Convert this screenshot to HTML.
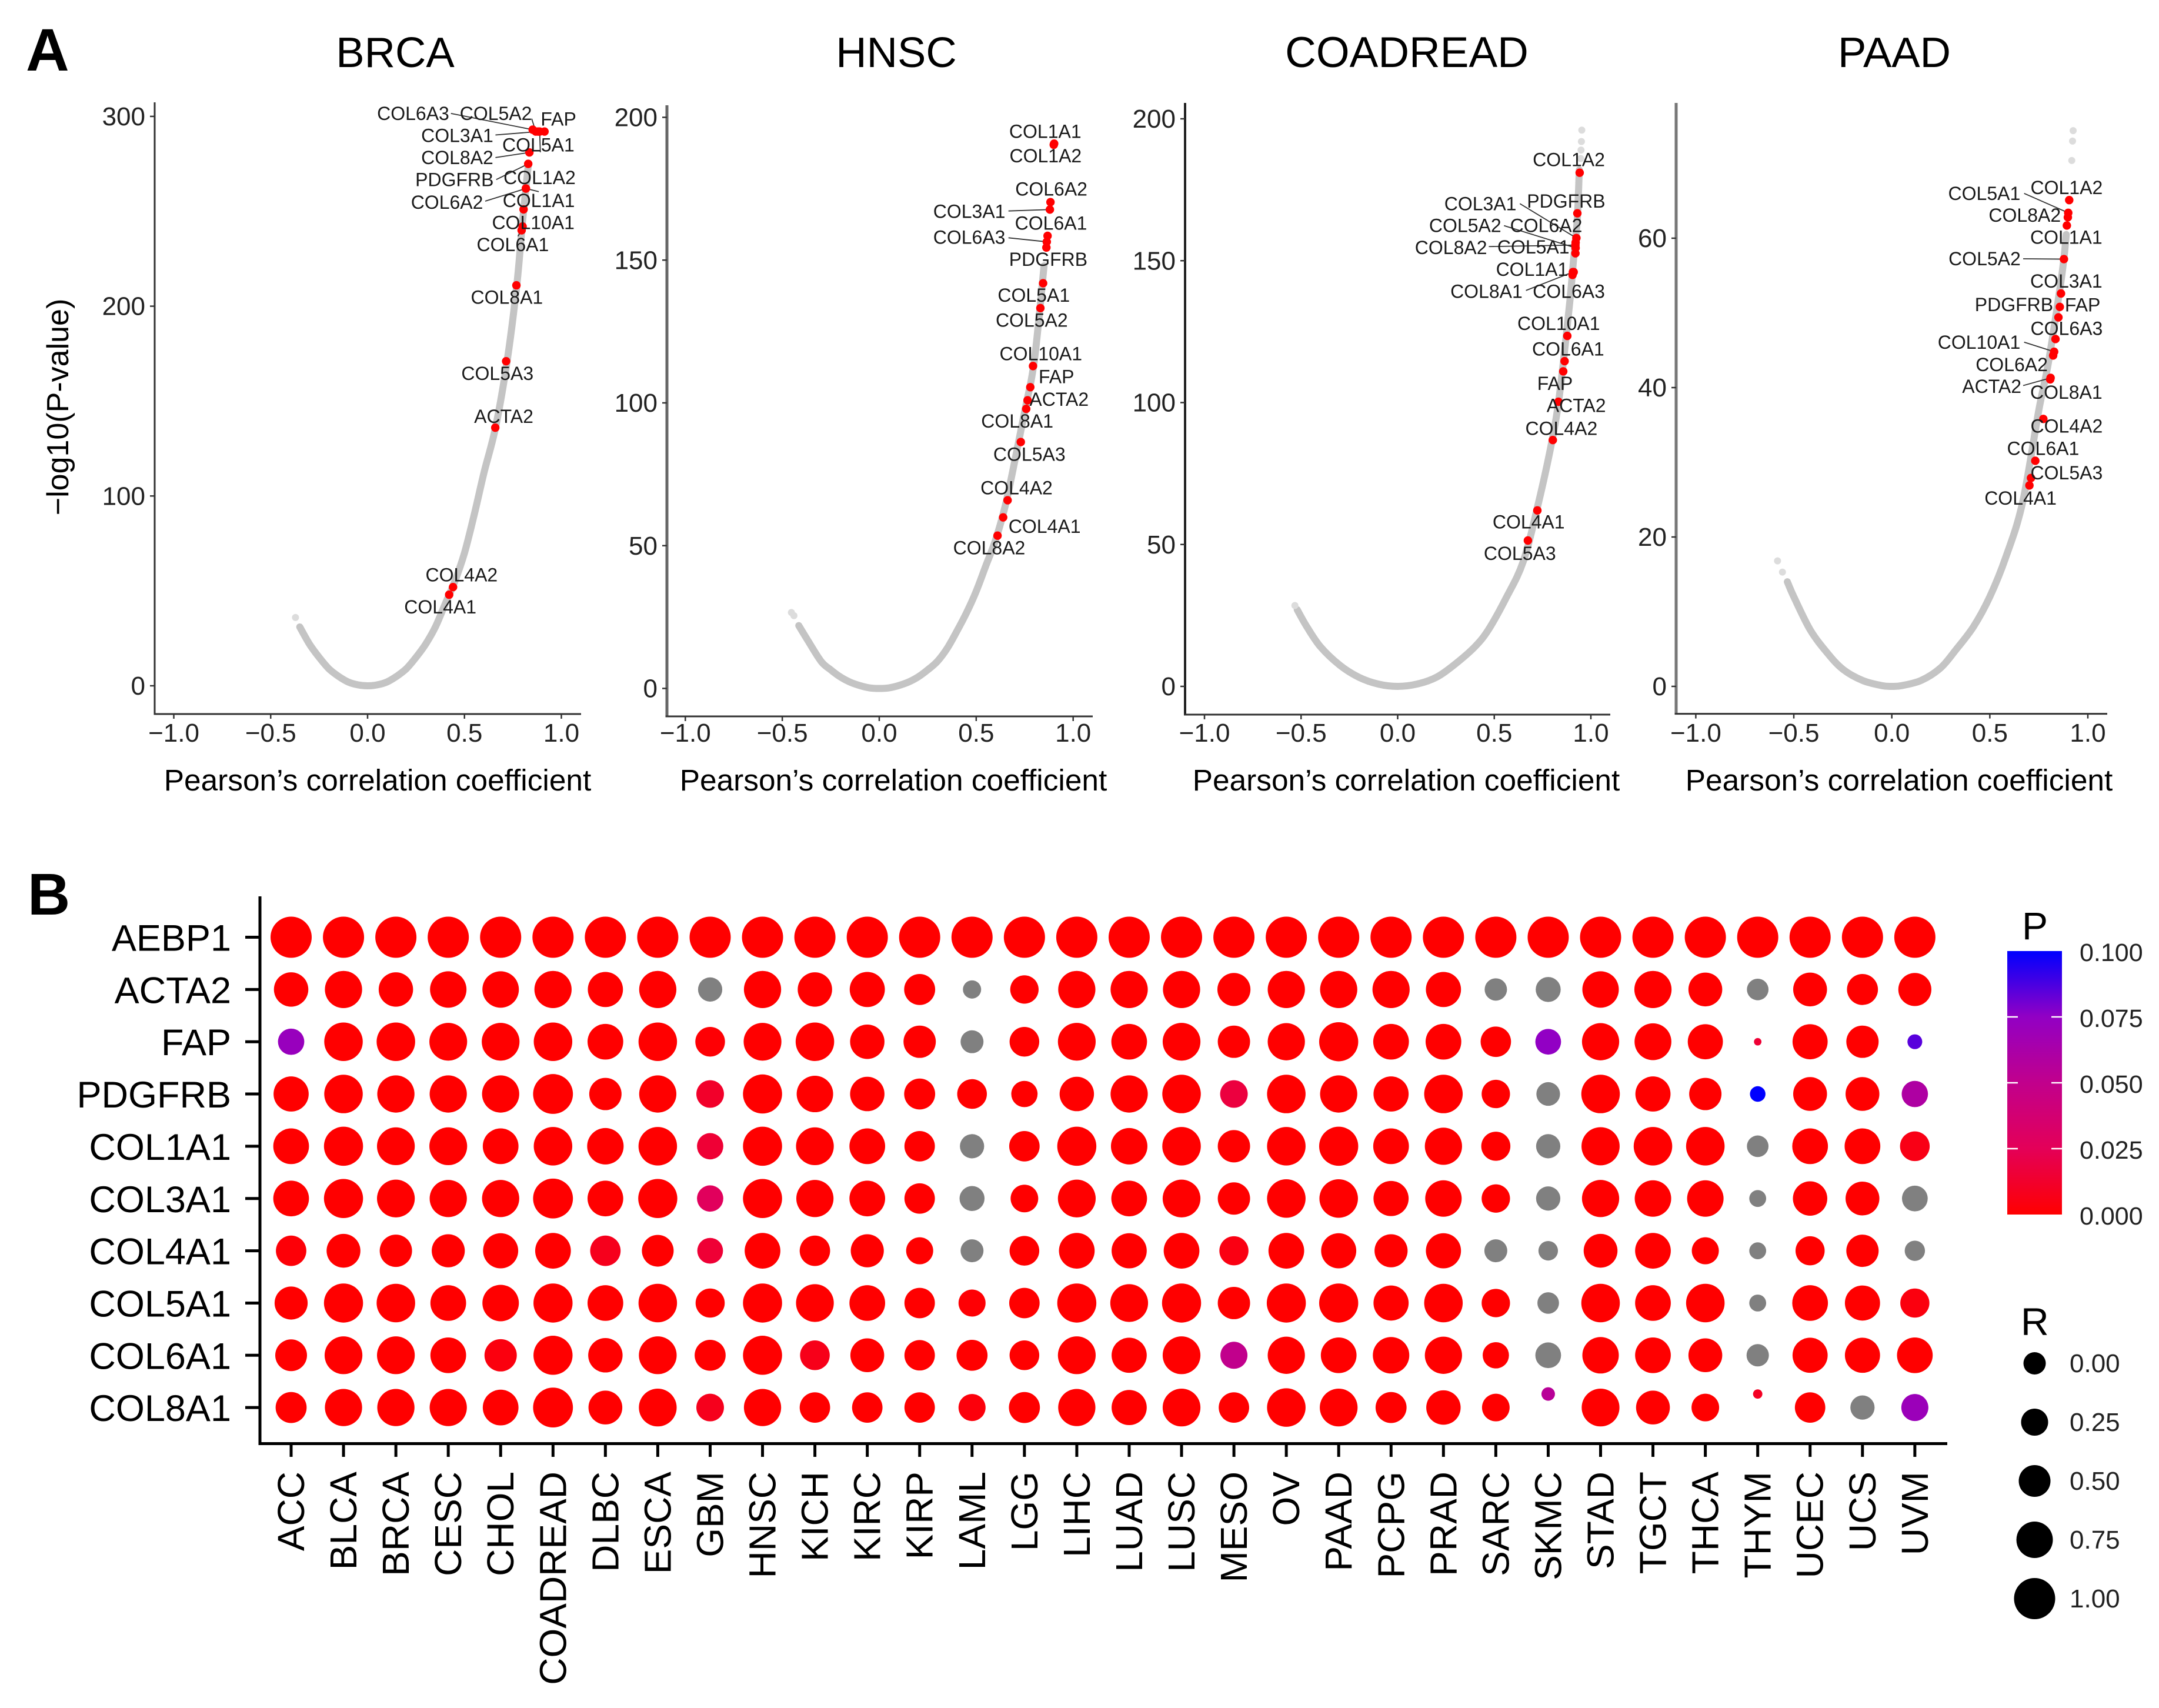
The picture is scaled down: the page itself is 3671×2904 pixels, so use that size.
<!DOCTYPE html>
<html lang="en">
<head>
<meta charset="utf-8">
<title>Panel A volcano plots and panel B dot matrix</title>
<style>
html,body{margin:0;padding:0;background:#fff;}
svg{display:block;font-family:"Liberation Sans",Arial,sans-serif;}
</style>
</head>
<body>
<svg id="figure" xmlns="http://www.w3.org/2000/svg" width="3671" height="2904" viewBox="0 0 3671 2904">
  <rect x="0" y="0" width="3671" height="2904" fill="#fff"/>
  <text x="44" y="120" font-size="102" font-weight="bold" fill="#000">A</text>
  <text x="47" y="1555" font-size="100" font-weight="bold" fill="#000">B</text>
  <text x="672" y="114" font-size="72.5" text-anchor="middle" fill="#000">BRCA</text>
  <text x="1524" y="114" font-size="72.5" text-anchor="middle" fill="#000">HNSC</text>
  <text x="2392" y="114" font-size="73" text-anchor="middle" fill="#000">COADREAD</text>
  <text x="3221" y="114" font-size="72.5" text-anchor="middle" fill="#000">PAAD</text>
  <text transform="translate(116,692) rotate(-90)" font-size="52" text-anchor="middle" fill="#000">−log10(P-value)</text>
  <text x="642" y="1344" font-size="51.4" text-anchor="middle" fill="#000">Pearson’s correlation coefficient</text>
  <text x="1519" y="1344" font-size="51.4" text-anchor="middle" fill="#000">Pearson’s correlation coefficient</text>
  <text x="2391" y="1344" font-size="51.4" text-anchor="middle" fill="#000">Pearson’s correlation coefficient</text>
  <text x="3229" y="1344" font-size="51.4" text-anchor="middle" fill="#000">Pearson’s correlation coefficient</text>
  <text x="3438" y="1597" font-size="66" fill="#000">P</text>
  <text x="3436" y="2270" font-size="66" fill="#000">R</text>
  <g id="volcano-layer"></g>
  <g id="dot-layer"></g>
  <g id="legend-layer"></g>
</svg>
<script>
/* ---------- Panel A data: values ---------- */
const xTickValues = [-1, -0.5, 0, 0.5, 1];
const brcaYTicks = [0, 100, 200, 300];
const hnscYTicks = [0, 50, 100, 150, 200];
const coadYTicks = [0, 50, 100, 150, 200];
const paadYTicks = [0, 20, 40, 60];

const brcaCurveR = [-.35,-.3,-.25,-.2,-.15,-.1,-.05,0,.05,.1,.15,.2,.25,.3,.35,.4,.45,.5,.55,.6,.66,.72,.77,.8,.83];
const brcaCurveP = [31,22,15,9,5,2,.5,0,.5,2,5,9,15,22,31,43,55,70,90,112,136,171,211,245,275];
const brcaFaintR = [-.372];
const brcaFaintP = [36];
const brcaGenes = ['COL6A3','COL5A2','FAP','COL3A1','COL5A1','COL8A2','COL1A2','PDGFRB','COL6A2','COL1A1','COL10A1','COL6A1','COL8A1','COL5A3','ACTA2','COL4A2','COL4A1'];
const brcaGeneR = [.852,.868,.913,.88,.888,.835,.817,.829,.817,.805,.80,.795,.768,.715,.659,.441,.421];
const brcaGeneP = [293,292,292,292,292,281,262,275,262,251,242,240,211,171,136,52,48];

const hnscCurveR = [-.415,-.37,-.3,-.25,-.2,-.15,-.1,-.05,0,.05,.1,.15,.2,.25,.3,.35,.4,.45,.5,.55,.6,.65,.7,.75,.8,.85];
const hnscCurveP = [22,17,9.5,6.5,4,2.2,1,.2,0,.2,1,2.2,4,6.5,9.5,14,20,26.5,34,43,52,64,80,97,115,148];
const hnscFaintR = [-.453,-.44];
const hnscFaintP = [26.6,25.5];
const hnscGenes = ['COL1A1','COL1A2','COL6A2','COL3A1','COL6A1','COL6A3','PDGFRB','COL5A1','COL5A2','COL10A1','FAP','ACTA2','COL8A1','COL5A3','COL4A2','COL4A1','COL8A2'];
const hnscGeneR = [.902,.90,.883,.880,.868,.864,.862,.845,.831,.793,.779,.765,.758,.730,.662,.639,.610];
const hnscGeneP = [190.8,190.4,170.3,167.7,158.5,156.4,154.4,141.9,133.2,112.9,105.5,100.9,97.9,86.3,65.9,59.9,53.5];

const coadCurveR = [-.52,-.47,-.4,-.3,-.2,-.1,0,.1,.2,.3,.4,.47,.56,.65,.73,.8,.84,.89,.91,.93,.94];
const coadCurveP = [27,21,14,7.5,3.2,.8,0,.8,3.2,8,14,20,31,44,65,87,104,135,150,165,182];
const coadFaintR = [-.532,.953,.951,.949,.947];
const coadFaintP = [28.5,196,192,189,186];
const coadGenes = ['COL1A2','COL3A1','PDGFRB','COL5A2','COL6A2','COL8A2','COL5A1','COL1A1','COL8A1','COL6A3','COL10A1','COL6A1','FAP','ACTA2','COL4A2','COL4A1','COL5A3'];
const coadGeneR = [.942,.925,.930,.921,.921,.920,.920,.911,.907,.905,.878,.864,.857,.832,.803,.723,.674];
const coadGeneP = [181,158,166.7,154.5,156.4,155.5,152.6,146,146,145,123.5,114.6,111,100.3,86.8,62,51.4];

const paadCurveR = [-.533,-.5,-.417,-.33,-.25,-.15,-.05,0,.05,.15,.25,.33,.417,.5,.583,.667,.75,.8,.867,.89];
const paadCurveP = [14,12,7.6,4.5,2.3,.8,.1,0,.1,.8,2.5,5,8,12,17.4,24.6,37,43.5,55,60.5];
const paadFaintR = [-.583,-.558,.925,.922,.918];
const paadFaintP = [16.8,15.3,74.4,73,70.4];
const paadGenes = ['COL5A1','COL1A2','COL8A2','COL1A1','COL5A2','COL3A1','PDGFRB','FAP','COL6A3','COL10A1','COL6A2','ACTA2','COL8A1','COL4A2','COL6A1','COL5A3','COL4A1'];
const paadGeneR = [.90,.905,.898,.893,.878,.863,.857,.85,.835,.828,.823,.81,.808,.773,.732,.71,.702];
const paadGeneP = [63.4,65.1,62.8,61.7,57.2,52.6,50.8,49.4,46.5,44.8,44.3,41.3,41.1,35.8,30.2,27.9,26.9];

/* ---------- Panel B data ---------- */
const cancerTypes = ['ACC','BLCA','BRCA','CESC','CHOL','COADREAD','DLBC','ESCA','GBM','HNSC','KICH','KIRC','KIRP','LAML','LGG','LIHC','LUAD','LUSC','MESO','OV','PAAD','PCPG','PRAD','SARC','SKMC','STAD','TGCT','THCA','THYM','UCEC','UCS','UVM'];
const matrixGenes = ['AEBP1','ACTA2','FAP','PDGFRB','COL1A1','COL3A1','COL4A1','COL5A1','COL6A1','COL8A1'];
const rAEBP1 = [1,1,1,1,1,1,1,1,1,1,1,1,1,1,1,1,1,1,1,1,1,1,1,1,1,1,1,1,1,1,1,1];
const rACTA2 = [.64,.79,.64,.75,.75,.79,.68,.79,.10,.79,.64,.68,.46,-.22,.32,.79,.79,.79,.57,.79,.79,.79,.68,0,.14,.75,.79,.61,-.04,.61,.46,.57];
const rFAP = [.21,.86,.86,.82,.82,.86,.71,.86,.39,.82,.86,.64,.53,.03,.39,.82,.71,.82,.53,.79,.89,.71,.71,.43,.18,.79,.77,.68,-.79,.68,.53,-.40];
const rPDGFRB = [.68,.86,.79,.79,.79,.93,.53,.79,.28,.89,.75,.64,.46,.39,.21,.64,.79,.86,.28,.86,.79,.68,.86,.32,.07,.86,.68,.53,-.36,.61,.61,.21];
const rCOL1A1 = [.71,.89,.82,.82,.71,.86,.75,.86,.21,.89,.82,.71,.43,.10,.43,.89,.75,.86,.53,.86,.89,.71,.79,.36,.10,.84,.86,.86,-.04,.71,.71,.39];
const rCOL3A1 = [.71,.89,.82,.79,.79,.93,.71,.89,.21,.89,.79,.71,.43,.14,.28,.82,.71,.82,.53,.86,.86,.68,.75,.32,.10,.79,.75,.75,-.29,.64,.61,.18];
const rCOL4A1 = [.43,.61,.53,.57,.68,.71,.43,.50,.18,.71,.43,.57,.25,.03,.39,.71,.68,.71,.36,.71,.68,.57,.68,.03,-.15,.61,.71,.25,-.29,.36,.53,-.11];
const rCOL5A1 = [.57,.89,.86,.71,.75,.89,.71,.86,.36,.89,.82,.71,.43,.25,.43,.89,.82,.89,.53,.89,.89,.68,.86,.32,-.04,.86,.71,.86,-.29,.71,.68,.36];
const rCOL6A1 = [.50,.82,.82,.71,.53,.89,.64,.82,.46,.89,.39,.61,.43,.46,.39,.82,.68,.82,.25,.79,.71,.75,.79,.21,.18,.75,.71,.61,0,.68,.68,.71];
const rCOL8A1 = [.46,.79,.79,.79,.71,.93,.61,.82,.28,.79,.43,.43,.43,.25,.46,.79,.68,.82,.43,.86,.82,.46,.64,.28,-.47,.82,.61,.28,-.69,.43,.10,.25];
/* null = not significant (drawn grey) */
const pAEBP1 = [0,0,0,0,0,0,0,0,0,0,0,0,0,0,0,0,0,0,0,0,0,0,0,0,0,0,0,0,0,0,0,0];
const pACTA2 = [0,0,0,0,0,0,0,0,null,0,0,0,0,null,0,0,0,0,0,0,0,0,0,null,null,0,0,0,null,0,0,0];
const pFAP = [.072,0,0,0,0,0,0,0,.001,0,0,0,0,null,0,0,0,0,0,0,0,0,0,0,.075,0,0,0,.015,0,0,.085];
const pPDGFRB = [0,0,0,0,0,0,0,0,.012,0,0,0,0,0,0,0,0,0,.018,0,0,0,0,0,null,0,0,0,.1,0,0,.06];
const pCOL1A1 = [0,0,0,0,0,0,0,0,.015,0,0,0,0,null,0,0,0,0,0,0,0,0,0,0,null,0,0,0,null,0,0,.006];
const pCOL3A1 = [0,0,0,0,0,0,0,0,.027,0,0,0,0,null,0,0,0,0,0,0,0,0,0,0,null,0,0,0,null,0,0,null];
const pCOL4A1 = [.002,0,0,0,0,0,.008,0,.015,0,0,0,0,null,0,0,0,0,.005,0,0,0,0,null,null,0,0,0,null,0,0,null];
const pCOL5A1 = [0,0,0,0,0,0,0,0,0,0,0,0,0,.001,0,0,0,0,0,0,0,0,0,0,null,0,0,0,null,0,0,.004];
const pCOL6A1 = [0,0,0,0,.004,0,0,0,0,0,.007,0,0,0,0,0,0,0,.05,0,0,0,0,0,null,0,0,0,null,0,0,0];
const pCOL8A1 = [0,0,0,0,0,0,0,0,.008,0,0,0,0,.003,0,0,0,0,0,0,0,0,0,0,.055,0,0,0,.01,0,null,.07];
const rRows = [rAEBP1,rACTA2,rFAP,rPDGFRB,rCOL1A1,rCOL3A1,rCOL4A1,rCOL5A1,rCOL6A1,rCOL8A1];
const pRows = [pAEBP1,pACTA2,pFAP,pPDGFRB,pCOL1A1,pCOL3A1,pCOL4A1,pCOL5A1,pCOL6A1,pCOL8A1];
const pLegendTicks = [0, 0.025, 0.05, 0.075, 0.1];
const rLegendTicks = [0, 0.25, 0.5, 0.75, 1];

/* ---------- Layout (pixels), kept apart from the data ---------- */
const SVGNS = 'http://www.w3.org/2000/svg';
const panels = [
  {curveR:brcaCurveR,curveP:brcaCurveP,faintR:brcaFaintR,faintP:brcaFaintP,genes:brcaGenes,geneR:brcaGeneR,geneP:brcaGeneP,yTicks:brcaYTicks,
   ax:263,top:174,bottom:1214,right:988,x0:625,xu:329.5,y0:1166,yu:3.227,axisW:3,axisC:'#333',
   grid:{ox:0,oy:0,sx:1.4933,sy:1.12},
   place:{COL6A3:[1049,216,1145,216],COL5A2:[1259,216,1350,226],FAP:[1418,227],COL3A1:[1161,258,1258,257],COL5A1:[1367,276,1372,290],COL8A2:[1161,300,1258,300],COL1A2:[1370,338,1368,365],PDGFRB:[1154,342,1260,342],COL6A2:[1135,385,1232,383],COL1A1:[1368,382,1327,400],COL10A1:[1354,424],COL6A1:[1302,466,1315,450],COL8A1:[1287,566],COL5A3:[1263,711],ACTA2:[1279,793],COL4A2:[1172,1095],COL4A1:[1118,1156]}},
  {curveR:hnscCurveR,curveP:hnscCurveP,faintR:hnscFaintR,faintP:hnscFaintP,genes:hnscGenes,geneR:hnscGeneR,geneP:hnscGeneP,yTicks:hnscYTicks,
   ax:1134,top:179,bottom:1218,right:1858,x0:1495,xu:329.7,y0:1170.5,yu:4.855,axisW:5,axisC:'#666',
   grid:{ox:1000,oy:100,sx:1.742,sy:1.206},
   place:{COL1A1:[1354,149],COL1A2:[1355,199],COL6A2:[1372,267],COL3A1:[1129,313,1245,312],COL6A1:[1371,337],COL6A3:[1129,366,1245,367],PDGFRB:[1363,411],COL5A1:[1320,485],COL5A2:[1314,536],COL10A1:[1341,605],FAP:[1387,652],ACTA2:[1395,698],COL8A1:[1271,743],COL5A3:[1307,811],COL4A2:[1269,880],COL4A1:[1352,959],COL8A2:[1188,1003]}},
  {curveR:coadCurveR,curveP:coadCurveP,faintR:coadFaintR,faintP:coadFaintP,genes:coadGenes,geneR:coadGeneR,geneP:coadGeneP,yTicks:coadYTicks,
   ax:2015,top:175,bottom:1215,right:2738,x0:2376.5,xu:328.5,y0:1167,yu:4.825,axisW:4,axisC:'#222',
   grid:{ox:1900,oy:100,sx:1.742,sy:1.206},
   place:{COL1A2:[1337,207],COL3A1:[1075,297,1192,297],PDGFRB:[1329,292],COL5A2:[1030,342,1145,342],COL6A2:[1270,342],COL8A2:[988,387,1100,385],COL5A1:[1232,386,1345,400],COL1A1:[1228,432],COL8A1:[1093,477,1210,475],COL6A3:[1337,477],COL10A1:[1307,543],COL6A1:[1335,595],FAP:[1296,666],ACTA2:[1359,711],COL4A2:[1315,758],COL4A1:[1218,950],COL5A3:[1192,1014]}},
  {curveR:paadCurveR,curveP:paadCurveP,faintR:paadFaintR,faintP:paadFaintP,genes:paadGenes,geneR:paadGeneR,geneP:paadGeneP,yTicks:paadYTicks,
   ax:2850,top:175,bottom:1213.6,right:3583,x0:3216.7,xu:333.3,y0:1167,yu:12.70,axisW:5,axisC:'#777',
   grid:{ox:2800,oy:100,sx:1.80,sy:1.206},
   place:{COL5A1:[1033,276,1155,276],COL1A2:[1285,264],COL8A2:[1157,321],COL1A1:[1284,366],COL5A2:[1034,410,1152,410],COL3A1:[1284,456],PDGFRB:[1124,504],FAP:[1334,505],COL6A3:[1285,553],COL10A1:[1017,581,1155,581],COL6A2:[1117,627],ACTA2:[1056,672,1152,670],COL8A1:[1284,684],COL4A2:[1285,753],COL6A1:[1213,799],COL5A3:[1285,849],COL4A1:[1144,901]}}
];
const matrix = {axisX:442,axisTop:1524,axisBottom:2454.5,axisRight:3311,col0:495,colStep:89.06,row0:1593.5,rowStep:88.85};
const shiftedUp = {'COL8A1|SKMC':23,'COL8A1|THYM':23};

function mk(tag, attrs, parent, txt){
  const n = document.createElementNS(SVGNS, tag);
  for (const k in attrs) n.setAttribute(k, attrs[k]);
  if (txt !== undefined) n.textContent = txt;
  parent.appendChild(n);
  return n;
}
function fmtTick(v){
  const s = Math.abs(v).toFixed(1);
  return (v < 0 ? '\u2212' : '') + s;
}
function pColor(p){
  if (p === null) return '#808080';
  const stops = [[255,0,0],[228,0,88],[193,0,140],[146,0,196],[0,0,255]];
  const t = Math.max(0, Math.min(1, p / 0.1)) * 4;
  const i = Math.min(3, Math.floor(t));
  const f = t - i;
  const c = [0,1,2].map(function(k){ return Math.round(stops[i][k] + (stops[i+1][k] - stops[i][k]) * f); });
  return 'rgb(' + c.join(',') + ')';
}
function dotDiameter(r){ return 38 + 32 * r; }
/* Smooth path through the read points (Catmull-Rom) */
function smoothPath(pts){
  let d = 'M' + pts[0][0].toFixed(1) + ' ' + pts[0][1].toFixed(1);
  for (let i = 0; i < pts.length - 1; i++){
    const a = pts[Math.max(0, i-1)], b = pts[i], c = pts[i+1], e = pts[Math.min(pts.length-1, i+2)];
    const c1x = b[0] + (c[0]-a[0])/6, c1y = b[1] + (c[1]-a[1])/6;
    const c2x = c[0] - (e[0]-b[0])/6, c2y = c[1] - (e[1]-b[1])/6;
    d += 'C' + c1x.toFixed(1) + ' ' + c1y.toFixed(1) + ' ' + c2x.toFixed(1) + ' ' + c2y.toFixed(1) + ' ' + c[0].toFixed(1) + ' ' + c[1].toFixed(1);
  }
  return d;
}

/* ---------- Draw panel A ---------- */
const volcanoLayer = document.getElementById('volcano-layer');
panels.forEach(function(p){
  const X = function(r){ return p.x0 + p.xu * r; };
  const Y = function(v){ return p.y0 - p.yu * v; };
  const g = mk('g', {}, volcanoLayer);
  
  

  const curve = mk('path', {d:smoothPath(p.curveR.map(function(r,i){ return [X(r), Y(p.curveP[i])]; })),fill:'none',stroke:'#c4c4c4','stroke-width':12,'stroke-linejoin':'round','stroke-linecap':'round'}, g);
  
  

  p.faintR.forEach(function(r,i){
    const f = mk('circle', {cx:X(r),cy:Y(p.faintP[i]),r:6,fill:'#dcdcdc'}, g);
    
    
  });

  const yAxis = mk('line', {x1:p.ax,y1:p.top,x2:p.ax,y2:p.bottom,stroke:p.axisC,'stroke-width':p.axisW}, g);
  
  
  const xAxis = mk('line', {x1:p.ax-p.axisW/2,y1:p.bottom,x2:p.right,y2:p.bottom,stroke:'#333','stroke-width':3}, g);
  
  

  xTickValues.forEach(function(v){
    const t = mk('line', {x1:X(v),y1:p.bottom,x2:X(v),y2:p.bottom+8,stroke:'#333','stroke-width':2.5}, g);
    
    
    const l = mk('text', {x:X(v),y:1261,'font-size':44,'text-anchor':'middle',fill:'#222'}, g, fmtTick(v));
    
    
  });
  p.yTicks.forEach(function(v){
    const t = mk('line', {x1:p.ax-8,y1:Y(v),x2:p.ax,y2:Y(v),stroke:'#333','stroke-width':2.5}, g);
    
    
    const l = mk('text', {x:p.ax-16,y:Y(v)+15,'font-size':44,'text-anchor':'end',fill:'#222'}, g, String(v));
    
    
  });

  const gx = function(c){ return p.grid.ox + c / p.grid.sx; };
  const gy = function(c){ return p.grid.oy + c / p.grid.sy; };
  p.genes.forEach(function(name,i){
    const s = p.place[name];
    if (s && s.length > 2){
      const lead = mk('line', {x1:gx(s[2]),y1:gy(s[3]),x2:X(p.geneR[i]),y2:Y(p.geneP[i]),stroke:'#333','stroke-width':1.8}, g);
      
      
    }
  });
  p.genes.forEach(function(name,i){
    const d = mk('circle', {cx:X(p.geneR[i]),cy:Y(p.geneP[i]),r:7.2,fill:'#ff0000'}, g);
    
    
  });
  p.genes.forEach(function(name){
    const s = p.place[name];
    const l = mk('text', {x:gx(s[0]),y:gy(s[1])+11,'font-size':32,'text-anchor':'middle',fill:'#1a1a1a'}, g, name);
    
    
  });
});

/* ---------- Draw panel B ---------- */
const dotLayer = document.getElementById('dot-layer');
const colX = function(c){ return matrix.col0 + matrix.colStep * c; };
const rowY = function(r){ return matrix.row0 + matrix.rowStep * r; };

const matYAxis = mk('line', {x1:matrix.axisX,y1:matrix.axisTop,x2:matrix.axisX,y2:matrix.axisBottom+2.5,stroke:'#000','stroke-width':5}, dotLayer);


const matXAxis = mk('line', {x1:matrix.axisX,y1:matrix.axisBottom,x2:matrix.axisRight,y2:matrix.axisBottom,stroke:'#000','stroke-width':5}, dotLayer);



matrixGenes.forEach(function(gene,r){
  const t = mk('line', {x1:417,y1:rowY(r),x2:matrix.axisX,y2:rowY(r),stroke:'#000','stroke-width':5}, dotLayer);
  
  
  const l = mk('text', {x:393,y:rowY(r)+23,'font-size':63,'text-anchor':'end',fill:'#000'}, dotLayer, gene);
  
  
});
cancerTypes.forEach(function(type,c){
  const t = mk('line', {x1:colX(c),y1:matrix.axisBottom,x2:colX(c),y2:2477,stroke:'#000','stroke-width':5}, dotLayer);
  
  
  const l = mk('text', {transform:'translate('+(colX(c)+22)+',2502) rotate(-90)','font-size':64,'text-anchor':'end',fill:'#000'}, dotLayer, type);
  
  
});
matrixGenes.forEach(function(gene,r){
  cancerTypes.forEach(function(type,c){
    const lift = shiftedUp[gene + '|' + type] || 0;
    const dot = mk('circle', {cx:colX(c),cy:rowY(r)-lift,r:dotDiameter(rRows[r][c])/2,fill:pColor(pRows[r][c])}, dotLayer);
    
    
  });
});

/* ---------- Legends ---------- */
const legendLayer = document.getElementById('legend-layer');
const barTop = 1617, barBottom = 2065, barLeft = 3413, barRight = 3506;
const barY = function(p){ return barBottom - (barBottom - barTop) * p / 0.1; };
const defs = mk('defs', {}, legendLayer);
const grad = mk('linearGradient', {id:'p-gradient',x1:0,y1:1,x2:0,y2:0}, defs);
for (let s = 0; s <= 20; s++){
  mk('stop', {offset:(s/20),'stop-color':pColor(0.1*s/20)}, grad);
}
const bar = mk('rect', {x:barLeft,y:barTop,width:barRight-barLeft,height:barBottom-barTop,fill:'url(#p-gradient)'}, legendLayer);


pLegendTicks.forEach(function(v){
  if (v > 0 && v < 0.1){
    const a = mk('line', {x1:barLeft,y1:barY(v),x2:barLeft+18,y2:barY(v),stroke:'#fff','stroke-width':2.5}, legendLayer);
    
    
    const b = mk('line', {x1:barRight-18,y1:barY(v),x2:barRight,y2:barY(v),stroke:'#fff','stroke-width':2.5}, legendLayer);
    
    
  }
  const l = mk('text', {x:3536,y:barY(v)+17,'font-size':43,fill:'#222'}, legendLayer, v.toFixed(3));
  
  
});
rLegendTicks.forEach(function(v,i){
  const cy = 2318 + 100 * i;
  const d = mk('circle', {cx:3459.5,cy:cy,r:dotDiameter(v)/2,fill:'#000'}, legendLayer);
  
  
  const l = mk('text', {x:3519,y:cy+15,'font-size':44,fill:'#222'}, legendLayer, v.toFixed(2));
  
  
});
</script>
</body>
</html>
